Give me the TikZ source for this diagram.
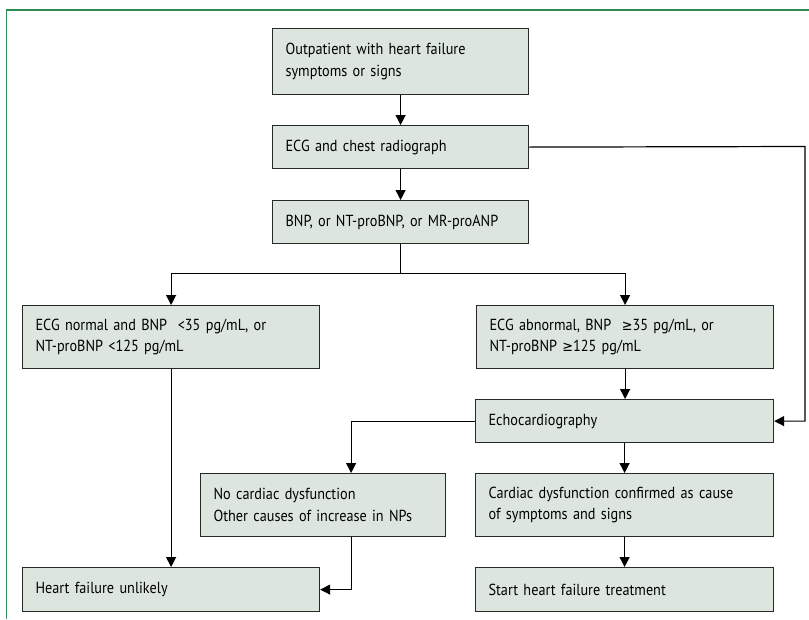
\documentclass[tikz,border=0pt]{standalone}
\usepackage{fontspec}
\setmainfont{PT Sans}[FakeStretch=0.89]
\newfontfamily\symbfont{DejaVu Sans}[FakeStretch=0.89, Scale=0.9]
\usetikzlibrary{arrows.meta}
\definecolor{boxfill}{RGB}{220,230,222}
\definecolor{framegreen}{RGB}{46,139,87}
\definecolor{edgegrey}{RGB}{40,40,40}
\newcommand{\geqsym}{{\symbfont ≥}}

\begin{document}
\begin{tikzpicture}[x=1pt, y=-1pt,
    flowbox/.style={draw=edgegrey, line width=1.2pt, fill=boxfill, anchor=north west,
        inner xsep=13pt, inner ysep=0pt, align=left,
        font=\fontsize{16pt}{21.5pt}\selectfont},
    arr/.style={-{Triangle[width=10pt,length=10pt]}, line width=1.2pt}]
    \useasboundingbox (0,0) rectangle (809,619);
    % Frame
    \draw[framegreen, line width=1.5pt] (809,10) -- (6.5,10) -- (6.5,619);
    % Work-up
    \node[flowbox, minimum width=256pt, minimum height=66pt, text width=230pt] (outpat) at (272,28)
        {Outpatient with heart failure\\symptoms or signs};
    \node[flowbox, minimum width=256pt, minimum height=43pt, text width=230pt] (ecgxray) at (272,125)
        {ECG and chest radiograph};
    \node[flowbox, minimum width=256pt, minimum height=43pt, text width=230pt] (natpep) at (272,200)
        {BNP, or NT-proBNP, or MR-proANP};
    % Results
    \node[flowbox, minimum width=297pt, minimum height=63pt, text width=271pt] (ecgnorm) at (22,305)
        {ECG normal and BNP \ <35 pg/mL, or\\NT-proBNP <125 pg/mL};
    \node[flowbox, minimum width=297pt, minimum height=63pt, text width=271pt] (ecgabn) at (476,305)
        {ECG abnormal, BNP \ \geqsym35 pg/mL, or\\NT-proBNP \geqsym125 pg/mL};
    \node[flowbox, minimum width=298pt, minimum height=43pt, text width=272pt] (echo) at (475,399)
        {Echocardiography};
    \node[flowbox, minimum width=245pt, minimum height=63pt, text width=219pt] (nodysf) at (200,473)
        {No cardiac dysfunction\\Other causes of increase in NPs};
    \node[flowbox, minimum width=298pt, minimum height=63pt, text width=272pt] (cardconf) at (475,473)
        {Cardiac dysfunction confirmed as cause\\of symptoms and signs};
    % Outcomes
    \node[flowbox, minimum width=297pt, minimum height=44pt, text width=271pt] (hfunlikely) at (22,567)
        {Heart failure unlikely};
    \node[flowbox, minimum width=298pt, minimum height=44pt, text width=272pt] (starttx) at (475,567)
        {Start heart failure treatment};
    % Connectors
    \coordinate (split) at (400,273.5);
    \coordinate (bypass) at (805,146.5);
    \draw[arr] (outpat) -- (ecgxray);
    \draw[arr] (ecgxray) -- (natpep);
    \draw[line width=1.2pt] (natpep.south) -- (natpep.south |- split);
    \draw[arr] (natpep.south |- split) -| (ecgnorm.north);
    \draw[arr] (natpep.south |- split) -| (ecgabn.north);
    \draw[arr] (ecgxray.east) -- (bypass) |- (echo.east);
    \draw[arr] (ecgabn.south) -- (ecgabn.south |- echo.north);
    \draw[arr] (ecgnorm) -- (hfunlikely);
    \draw[arr] (echo.west) -| ([xshift=28pt]nodysf.north);
    \draw[arr] ([xshift=28pt]nodysf.south) |- (hfunlikely.east);
    \draw[arr] (echo) -- (cardconf);
    \draw[arr] (cardconf) -- (starttx);
\end{tikzpicture}
\end{document}
